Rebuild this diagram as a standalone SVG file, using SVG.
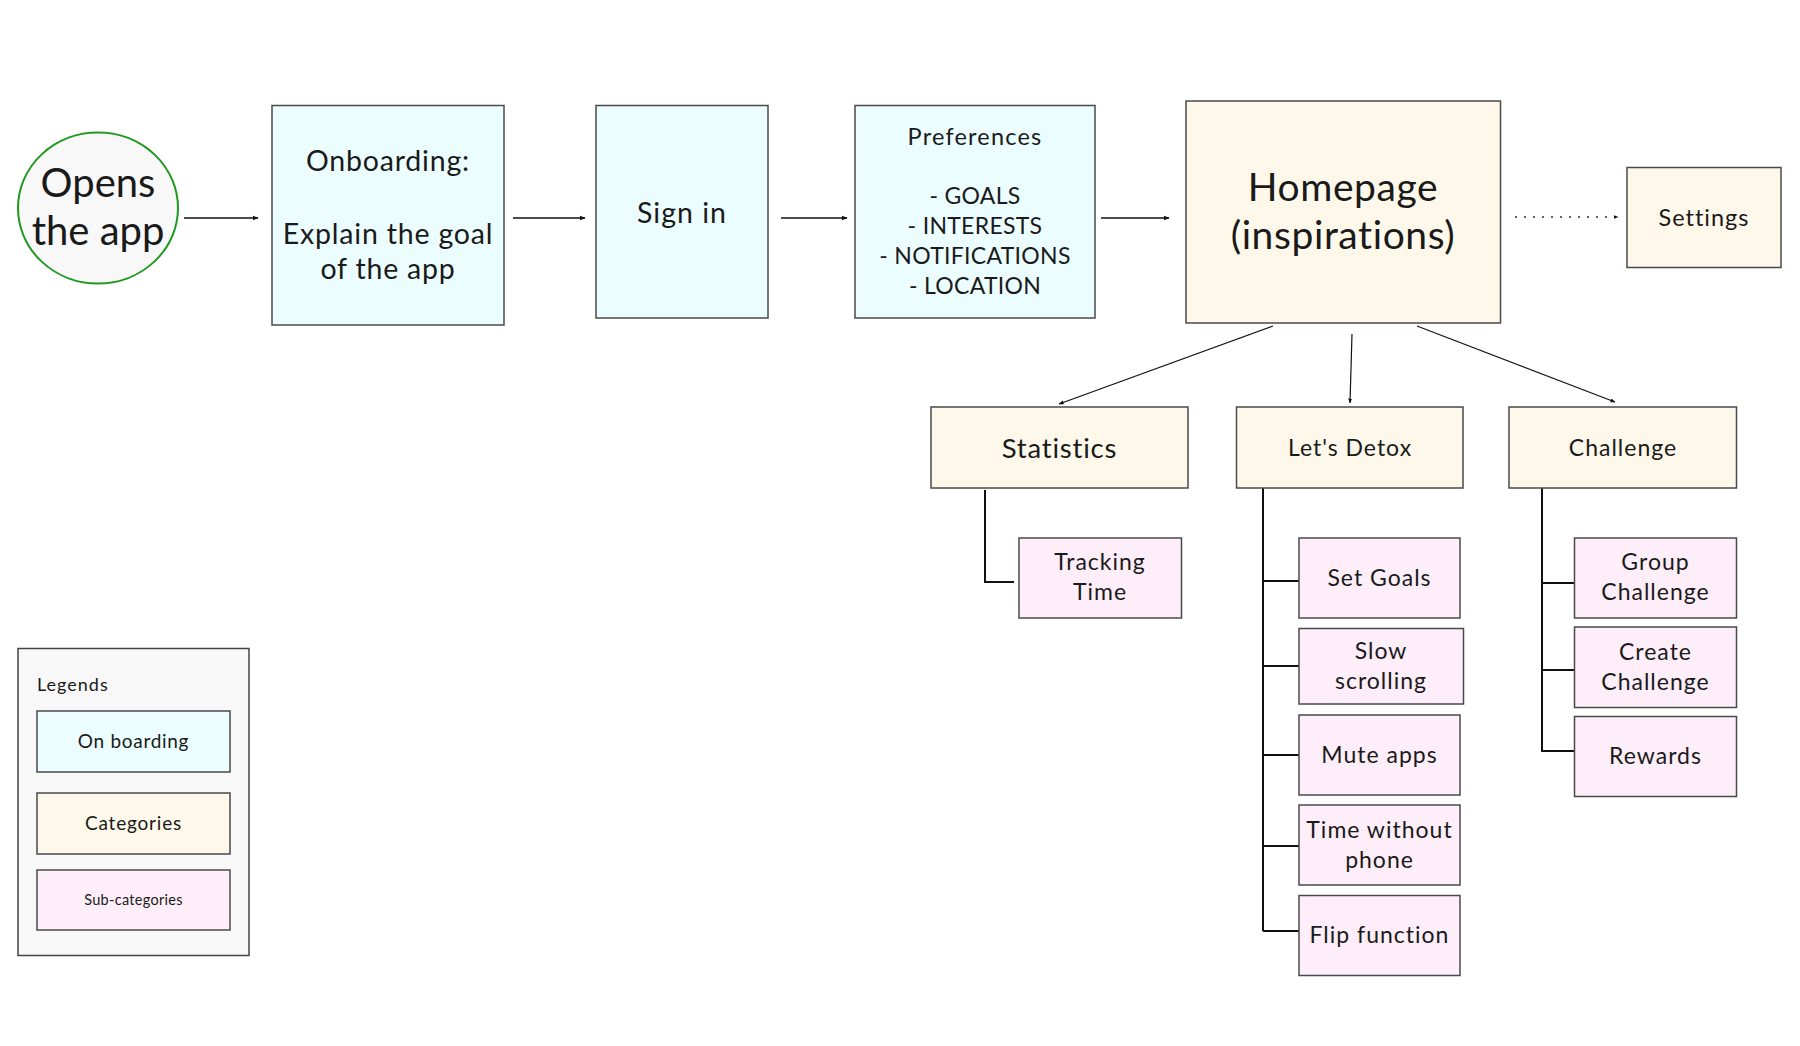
<svg xmlns="http://www.w3.org/2000/svg" width="1800" height="1046" viewBox="0 0 1800 1046">
<style>
text{font-family:Lato,"Liberation Sans",sans-serif;fill:#1a1a1a;text-anchor:middle}
.box{stroke:#4a4a4a;stroke-width:1.5}
.on{fill:#ebfdfe}
.cat{fill:#fdf8ea}
.sub{fill:#fdeef9}
.arr{stroke:#111;stroke-width:1.5;fill:none;marker-end:url(#ah)}
.thin{stroke:#111;stroke-width:1.2;fill:none;marker-end:url(#ah2)}
.tree{stroke:#111;stroke-width:2;fill:none}
.t23{font-size:23px;letter-spacing:1px}
</style>
<defs>
<marker id="ah" viewBox="0 0 10 10" refX="9" refY="5" markerWidth="6" markerHeight="6" orient="auto" markerUnits="userSpaceOnUse"><path d="M0,1 L10,5 L0,9 z" fill="#111"/></marker>
<marker id="ah2" viewBox="0 0 10 10" refX="9" refY="5" markerWidth="5" markerHeight="5" orient="auto" markerUnits="userSpaceOnUse"><path d="M0,1 L10,5 L0,9 z" fill="#111"/></marker>
</defs>
<rect width="1800" height="1046" fill="#fff"/>

<g id="connectors">
<line class="arr" x1="184" y1="218" x2="258" y2="218"/>
<line class="arr" x1="513" y1="218" x2="585" y2="218"/>
<line class="arr" x1="781" y1="218" x2="847" y2="218"/>
<line class="arr" x1="1101" y1="218" x2="1169" y2="218"/>
<line x1="1515" y1="217" x2="1618" y2="217" stroke="#333" stroke-width="1.5" stroke-dasharray="2,7" marker-end="url(#ah2)"/>
<line class="thin" x1="1273" y1="326" x2="1059" y2="404"/>
<line class="thin" x1="1352" y1="334" x2="1350" y2="403"/>
<line class="thin" x1="1417" y1="326" x2="1615" y2="402"/>
<path class="tree" d="M985,490 V582 H1014"/>
<path class="tree" d="M1263,488 V931 M1263,581 H1299 M1263,666 H1299 M1263,755 H1299 M1263,846 H1299 M1263,931 H1299"/>
<path class="tree" d="M1542,488 V751 H1574 M1542,583 H1574 M1542,670 H1574"/>
</g>

<g id="opens">
<ellipse cx="98" cy="208" rx="80" ry="75.5" fill="#f8f8f8" stroke="#1f9a1f" stroke-width="2"/>
<text x="98" y="197" font-size="40">Opens</text>
<text x="98" y="245" font-size="40">the app</text>
</g>
<g id="onboarding">
<rect class="box on" x="272" y="105.5" width="232" height="219.5"/>
<text x="388" y="171" font-size="28.5" letter-spacing="0.8">Onboarding:</text>
<text x="388" y="244" font-size="28.5" letter-spacing="0.8">Explain the goal</text>
<text x="388" y="279" font-size="28.5" letter-spacing="0.8">of the app</text>
</g>
<g id="signin">
<rect class="box on" x="596" y="105.5" width="172" height="212.5"/>
<text x="682" y="223" font-size="28.5" letter-spacing="1">Sign in</text>
</g>
<g id="preferences">
<rect class="box on" x="855" y="105.5" width="240" height="212.5"/>
<text x="975" y="145" font-size="23.5" letter-spacing="1.2">Preferences</text>
<text x="975" y="204" font-size="23" letter-spacing="0.3">- GOALS</text>
<text x="975" y="234" font-size="23" letter-spacing="0.3">- INTERESTS</text>
<text x="975" y="264" font-size="23" letter-spacing="0.3">- NOTIFICATIONS</text>
<text x="975" y="294" font-size="23" letter-spacing="0.3">- LOCATION</text>
</g>
<g id="homepage">
<rect class="box cat" x="1186" y="101" width="314.5" height="222"/>
<text x="1343" y="201" font-size="39" letter-spacing="0.6">Homepage</text>
<text x="1343" y="249" font-size="39" letter-spacing="0.6">(inspirations)</text>
</g>
<g id="settings">
<rect class="box cat" x="1627" y="167.5" width="154" height="100"/>
<text x="1704" y="226" font-size="23.5" letter-spacing="1">Settings</text>
</g>
<g id="statistics">
<rect class="box cat" x="931" y="407" width="257" height="81"/>
<text x="1059.5" y="458" font-size="27.5" letter-spacing="0.8">Statistics</text>
</g>
<g id="detox">
<rect class="box cat" x="1236.5" y="407" width="226.5" height="81"/>
<text class="t23" x="1350" y="456">Let's Detox</text>
</g>
<g id="challenge">
<rect class="box cat" x="1509" y="407" width="227.5" height="81"/>
<text class="t23" x="1623" y="456">Challenge</text>
</g>
<g id="tracking">
<rect class="box sub" x="1019" y="538" width="162.5" height="80"/>
<text class="t23" x="1100" y="570">Tracking</text>
<text class="t23" x="1100" y="600">Time</text>
</g>
<g id="setgoals">
<rect class="box sub" x="1299" y="538" width="161" height="80"/>
<text class="t23" x="1379.5" y="586">Set Goals</text>
</g>
<g id="slowscrolling">
<rect class="box sub" x="1299" y="628.5" width="164.5" height="75.5"/>
<text class="t23" x="1381" y="659">Slow</text>
<text class="t23" x="1381" y="689">scrolling</text>
</g>
<g id="muteapps">
<rect class="box sub" x="1299" y="715" width="161" height="80"/>
<text class="t23" x="1379.5" y="763">Mute apps</text>
</g>
<g id="timewithout">
<rect class="box sub" x="1299" y="805" width="161" height="80"/>
<text class="t23" x="1379.5" y="838">Time without</text>
<text class="t23" x="1379.5" y="868">phone</text>
</g>
<g id="flip">
<rect class="box sub" x="1299" y="895.5" width="161" height="80"/>
<text class="t23" x="1379.5" y="943">Flip function</text>
</g>
<g id="groupchallenge">
<rect class="box sub" x="1574.5" y="538" width="162" height="80"/>
<text class="t23" x="1655.5" y="570">Group</text>
<text class="t23" x="1655.5" y="600">Challenge</text>
</g>
<g id="createchallenge">
<rect class="box sub" x="1574.5" y="627" width="162" height="80.5"/>
<text class="t23" x="1655.5" y="660">Create</text>
<text class="t23" x="1655.5" y="690">Challenge</text>
</g>
<g id="rewards">
<rect class="box sub" x="1574.5" y="716.5" width="162" height="80"/>
<text class="t23" x="1655.5" y="764">Rewards</text>
</g>
<g id="legend">
<rect x="18" y="648.5" width="231" height="307" fill="#f8f8f8" stroke="#444" stroke-width="1.5"/>
<text x="37" y="691" font-size="18" letter-spacing="1" style="text-anchor:start">Legends</text>
<rect class="box on" x="37" y="711" width="193" height="61"/>
<text x="133.5" y="748" font-size="19" letter-spacing="0.7">On boarding</text>
<rect class="box cat" x="37" y="793" width="193" height="61"/>
<text x="133.5" y="830" font-size="19" letter-spacing="0.8">Categories</text>
<rect class="box sub" x="37" y="870" width="193" height="60"/>
<text x="133.5" y="905" font-size="14.5" letter-spacing="0.3">Sub-categories</text>
</g>
</svg>
